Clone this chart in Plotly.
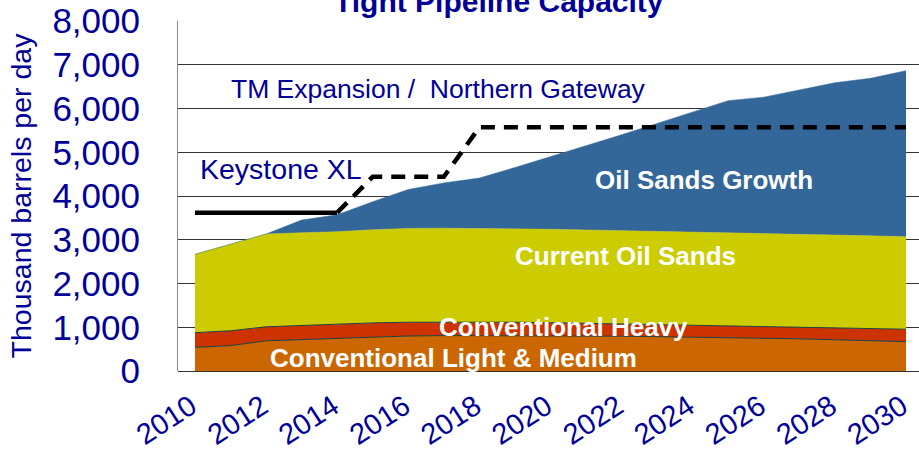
import plotly.graph_objects as go

years = list(range(2010, 2031))

# stacked layer values (thousand barrels per day)
conv_light = [540, 580, 690, 720, 750, 780, 800, 810, 810, 810, 805, 800, 795, 785, 775, 765, 750, 735, 715, 695, 670]
conv_heavy_top = [876, 920, 1010, 1045, 1075, 1100, 1115, 1120, 1120, 1115, 1105, 1095, 1080, 1060, 1045, 1030, 1015, 1000, 985, 970, 955]
oil_sands_top = [2667, 2900, 3130, 3160, 3185, 3230, 3260, 3265, 3260, 3250, 3240, 3225, 3210, 3190, 3175, 3160, 3145, 3125, 3105, 3090, 3070]
total_top = [2667, 2900, 3130, 3450, 3570, 3870, 4150, 4300, 4410, 4650, 4900, 5140, 5400, 5660, 5920, 6180, 6260, 6420, 6590, 6690, 6865]

conv_heavy = [h - l for h, l in zip(conv_heavy_top, conv_light)]
current_oil_sands = [o - h for o, h in zip(oil_sands_top, conv_heavy_top)]
oil_sands_growth = [t - o for t, o in zip(total_top, oil_sands_top)]

keystone_solid_x = [2010, 2014]
keystone_solid_y = [3620, 3620]
keystone_dash_x = [2014, 2015, 2017, 2018, 2030]
keystone_dash_y = [3620, 4440, 4440, 5570, 5570]

y_ticks = [0, 1000, 2000, 3000, 4000, 5000, 6000, 7000, 8000]
x_ticks = list(range(2010, 2031, 2))

NAVY = "#000099"
EDGE = "#1c4040"
FONT = "Arial, Liberation Sans, sans-serif"

fig = go.Figure()
fig.add_trace(go.Scatter(x=years, y=conv_light, stackgroup="s", mode="lines",
                         line=dict(color=EDGE, width=1), fillcolor="#CC6600", name="Conventional Light & Medium"))
fig.add_trace(go.Scatter(x=years, y=conv_heavy, stackgroup="s", mode="lines",
                         line=dict(color=EDGE, width=1), fillcolor="#CC3300", name="Conventional Heavy"))
fig.add_trace(go.Scatter(x=years, y=current_oil_sands, stackgroup="s", mode="lines",
                         line=dict(color="#CCCC00", width=0.5), fillcolor="#CCCC00", name="Current Oil Sands"))
fig.add_trace(go.Scatter(x=years, y=oil_sands_growth, stackgroup="s", mode="lines",
                         line=dict(color="#336699", width=0.5), fillcolor="#336699", name="Oil Sands Growth"))
fig.add_trace(go.Scatter(x=keystone_solid_x, y=keystone_solid_y, mode="lines",
                         line=dict(color="black", width=4.5), name="Keystone XL"))
fig.add_trace(go.Scatter(x=keystone_dash_x, y=keystone_dash_y, mode="lines",
                         line=dict(color="black", width=4.5, dash="14px,9px"), name="Pipeline capacity"))

white_bold = dict(family=FONT, size=26, color="white")
annos = [
    dict(x=2016.86, y=6446, text="TM Expansion /  Northern Gateway",
         font=dict(family=FONT, size=26.5, color=NAVY)),
    dict(x=2012.42, y=4620, text="Keystone XL",
         font=dict(family=FONT, size=28.5, color=NAVY)),
    dict(x=2024.32, y=4366, text="<b>Oil Sands Growth</b>", font=white_bold),
    dict(x=2022.11, y=2629, text="<b>Current Oil Sands</b>", font=white_bold),
    dict(x=2020.37, y=1006, text="<b>Conventional Heavy</b>", font=dict(white_bold, size=26)),
    dict(x=2017.26, y=286, text="<b>Conventional Light &amp; Medium</b>", font=white_bold),
]
for a in annos:
    fig.add_annotation(xref="x", yref="y", showarrow=False, xanchor="center", yanchor="middle", **a)

fig.add_annotation(xref="paper", yref="paper", x=0.433, y=1, yanchor="bottom", yshift=1,
                   showarrow=False, text="<b>Tight Pipeline Capacity</b>",
                   font=dict(family=FONT, size=30, color=NAVY))

fig.update_layout(
    width=919, height=453,
    margin=dict(l=178, r=0, t=21, b=82),
    paper_bgcolor="white", plot_bgcolor="white",
    showlegend=False,
    font=dict(family=FONT, color=NAVY),
)
fig.update_xaxes(range=[2009.522, 2030.366], tickmode="array", tickvals=x_ticks,
                 ticktext=[str(v) for v in x_ticks], tickangle=-33,
                 tickfont=dict(size=29, color=NAVY), showgrid=False, zeroline=False,
                 showline=False, ticks="", ticklabelstandoff=12, ticklabelshift=-4)
fig.update_yaxes(range=[0, 8000], tickmode="array", tickvals=y_ticks,
                 ticktext=[f"{v:,}" for v in y_ticks],
                 tickfont=dict(size=35, color=NAVY), showgrid=True, gridcolor="#333333", gridwidth=1,
                 zeroline=True, zerolinecolor="#333333", zerolinewidth=1,
                 showline=True, linecolor="#888888", linewidth=1, ticks="", ticklabelstandoff=30,
                 title=dict(text="Thousand barrels per day", font=dict(size=28.5, color=NAVY), standoff=12))

fig.write_html("out.html", config={"displayModeBar": False},
               post_script="document.body.style.margin='0';document.body.style.overflow='hidden';")
